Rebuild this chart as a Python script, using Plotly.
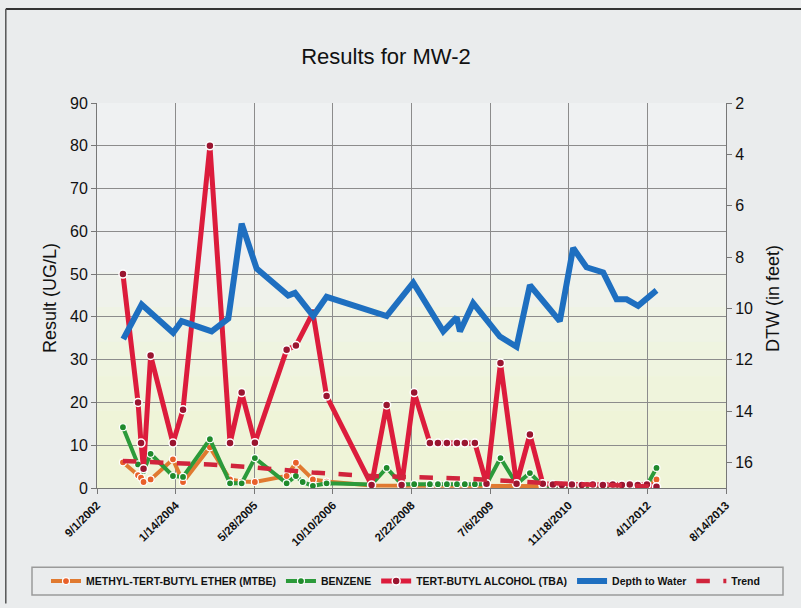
import plotly.graph_objects as go
import pandas as pd

# ---------------- data ----------------
x_tick_labels = ["9/1/2002", "1/14/2004", "5/28/2005", "10/10/2006", "2/22/2008",
                 "7/6/2009", "11/18/2010", "4/1/2012", "8/14/2013"]
y_left_ticks = [0, 10, 20, 30, 40, 50, 60, 70, 80, 90]
y_right_ticks = [2, 4, 6, 8, 10, 12, 14, 16]

tba_dates = ["2003-02-13", "2003-05-20", "2003-06-08", "2003-06-24", "2003-08-08",
             "2003-12-28", "2004-03-01", "2004-08-19", "2004-12-25", "2005-03-09",
             "2005-06-01", "2005-12-20", "2006-02-17", "2006-06-05", "2006-08-31",
             "2007-06-13", "2007-09-17", "2007-12-21", "2008-03-10", "2008-06-18",
             "2008-08-08", "2008-10-04", "2008-12-07", "2009-01-26", "2009-03-31",
             "2009-06-13", "2009-09-10", "2009-12-21", "2010-03-16", "2010-06-06",
             "2010-08-09", "2010-10-05", "2010-12-08", "2011-02-09", "2011-04-20",
             "2011-06-23", "2011-08-25", "2011-10-22", "2011-12-11", "2012-01-31",
             "2012-03-29", "2012-05-29"]
tba_values = [50, 20, 10.5, 4.5, 31,
              10.5, 18.3, 80, 10.5, 22.3,
              10.6, 32.3, 33.3, 41, 21.5,
              0.7, 19.4, 0.7, 22.3, 10.5,
              10.5, 10.5, 10.5, 10.5, 10.5,
              1, 29.2, 1, 12.5, 1,
              0.8, 0.7, 0.8, 0.7, 0.8,
              0.7, 0.8, 0.7, 0.8, 0.7,
              0.8, 0.3]

benz_dates = ["2003-02-13", "2003-05-20", "2003-06-24", "2003-08-08",
              "2003-12-28", "2004-03-01", "2004-08-19", "2004-12-25", "2005-03-09",
              "2005-06-01", "2005-12-20", "2006-02-17", "2006-04-01", "2006-06-05",
              "2006-08-31", "2007-06-13", "2007-09-17", "2007-12-21", "2008-03-10",
              "2008-06-18", "2008-08-08", "2008-10-04", "2008-12-07", "2009-01-26",
              "2009-03-31", "2009-06-13", "2009-09-10", "2009-12-21", "2010-03-16",
              "2010-06-06", "2010-12-08", "2011-06-23", "2011-12-11", "2012-03-29",
              "2012-05-29"]
benz_values = [14.2, 5.5, 4, 8,
               2.8, 2.6, 11.4, 1.1, 1.1,
               7, 1.1, 2.8, 1.4, 0.5,
               1.1, 0.8, 4.7, 0.9, 0.9,
               0.9, 0.9, 0.9, 0.9, 0.9,
               0.9, 0.9, 7, 0.9, 3.5,
               0.5, 0.4, 0.4, 0.4, 0.6,
               4.7]

mtbe_dates = ["2003-02-13", "2003-05-20", "2003-06-08", "2003-06-24", "2003-08-08",
              "2003-12-28", "2004-03-01", "2004-08-19", "2004-12-25", "2005-03-09",
              "2005-06-01", "2005-12-20", "2006-02-17", "2006-06-05", "2006-08-31",
              "2007-06-13", "2008-06-18", "2009-06-13", "2010-06-06", "2011-06-23",
              "2012-03-29", "2012-05-29"]
mtbe_values = [6, 3, 2.4, 1.4, 2,
               6.7, 1.4, 9.5, 2, 1.5,
               1.4, 2.8, 5.9, 2, 1.5,
               0.6, 0.5, 0.5, 0.4, 0.4,
               0.4, 2]

dtw_dates = ["2003-02-15", "2003-06-12", "2003-12-29", "2004-02-21", "2004-08-30",
             "2004-12-14", "2005-03-09", "2005-06-12", "2005-12-30", "2006-02-11",
             "2006-06-07", "2006-08-31", "2007-09-17", "2008-03-04", "2008-09-11",
             "2008-12-05", "2008-12-26", "2009-03-20", "2009-09-06", "2009-12-21",
             "2010-03-16", "2010-09-22", "2010-12-16", "2011-03-11", "2011-06-25",
             "2011-09-18", "2011-11-21", "2012-02-02", "2012-05-29"]
dtw_values = [11.2, 9.85, 10.95, 10.5, 10.9,
              10.4, 6.7, 8.45, 9.5, 9.4,
              10.3, 9.55, 10.3, 9.0, 10.9,
              10.35, 10.9, 9.8, 11.1, 11.5,
              9.1, 10.5, 7.65, 8.4, 8.6,
              9.65, 9.65, 9.9, 9.3]

trend_dates = ["2003-02-13", "2004-08-19", "2005-06-01", "2006-06-05", "2007-06-13",
               "2009-01-26", "2010-06-06", "2012-05-29"]
trend_values = [6.3, 5.5, 4.8, 3.6, 2.8, 2.2, 1.2, 0.3]

# ---------------- styling ----------------
FONT = "Liberation Sans, Arial, sans-serif"
RED = "#dc1c3c"
GREEN = "#2b9a3a"
ORANGE = "#e07a30"
BLUE = "#1e6fc0"

tick_dates = pd.to_datetime(x_tick_labels, format="%m/%d/%Y")

fig = go.Figure()

fig.add_trace(go.Scatter(
    x=pd.to_datetime(mtbe_dates), y=mtbe_values, name="METHYL-TERT-BUTYL ETHER (MTBE)",
    mode="lines+markers", line=dict(color=ORANGE, width=4),
    marker=dict(color="#e8602a", size=7, line=dict(color="white", width=1.2)),
))
fig.add_trace(go.Scatter(
    x=pd.to_datetime(benz_dates), y=benz_values, name="BENZENE",
    mode="lines+markers", line=dict(color=GREEN, width=4),
    marker=dict(color="#1f8a2c", size=7, line=dict(color="white", width=1.2)),
))
fig.add_trace(go.Scatter(
    x=pd.to_datetime(tba_dates), y=tba_values, name="TERT-BUTYL ALCOHOL (TBA)",
    mode="lines+markers", line=dict(color=RED, width=5),
    marker=dict(color="#9a1530", size=8, line=dict(color="white", width=1.5)),
))
fig.add_trace(go.Scatter(
    x=pd.to_datetime(dtw_dates), y=dtw_values, name="Depth to Water",
    mode="lines", line=dict(color=BLUE, width=6), yaxis="y2",
))
fig.add_trace(go.Scatter(
    x=pd.to_datetime(trend_dates), y=trend_values, name="Trend",
    mode="lines", line=dict(color="#d0243c", width=4.5, dash="dash"),
))

# lighter plot area with a gradual scan tint in its lower part
plot_bg = [dict(type="rect", xref="paper", yref="paper", x0=0, x1=1, y0=0, y1=1,
                fillcolor="#eff1f2", line=dict(width=0), layer="below")]
tint = [dict(type="rect", xref="paper", yref="paper", x0=0, x1=1, y0=0, y1=top,
             fillcolor="#f5f6c6", opacity=0.16, line=dict(width=0), layer="below")
        for top in (0.56, 0.47, 0.38, 0.29, 0.2)]

fig.update_layout(
    width=801, height=608,
    margin=dict(l=97, r=75, t=103, b=116),
    paper_bgcolor="#eaeced",
    plot_bgcolor="rgba(0,0,0,0)",
    font=dict(family=FONT, color="#1a1a1a"),
    title=dict(text="Results for MW-2", x=386 / 801, xref="container", xanchor="center",
               y=1 - 56 / 608, yref="container", yanchor="middle",
               font=dict(family=FONT, size=22, color="#111")),
    showlegend=True,
    legend=dict(orientation="h", xref="paper", yref="paper",
                x=(46 - 97) / 629, xanchor="left", y=(492 - 586) / 389, yanchor="middle",
                font=dict(family=FONT, size=10.5, weight="bold", color="#111"),
                bgcolor="rgba(0,0,0,0)", itemwidth=30, tracegroupgap=0),
    xaxis=dict(
        type="date", range=[tick_dates[0], tick_dates[-1]],
        tickvals=tick_dates, ticktext=x_tick_labels, tickangle=-45,
        tickfont=dict(family=FONT, size=11.5, weight="bold", color="#111"),
        showgrid=True, gridcolor="#8c8c8c", gridwidth=1,
        showline=True, linecolor="#777", linewidth=1,
        ticks="outside", ticklen=5, tickcolor="#777",
        zeroline=False,
    ),
    yaxis=dict(
        range=[0, 90], tickvals=y_left_ticks,
        tickfont=dict(family=FONT, size=16, color="#111"),
        showgrid=True, gridcolor="#8c8c8c", gridwidth=1,
        showline=True, linecolor="#777", linewidth=1,
        ticks="outside", ticklen=5, tickcolor="#777",
        zeroline=False,
    ),
    yaxis2=dict(
        overlaying="y", side="right", range=[17, 2], tickvals=y_right_ticks,
        tickfont=dict(family=FONT, size=16, color="#111"),
        showgrid=False, showline=True, linecolor="#777", linewidth=1,
        ticks="outside", ticklen=5, tickcolor="#777",
        zeroline=False,
    ),
    annotations=[
        dict(text="Result (UG/L)", textangle=-90, x=(50 - 97) / 629, y=(492 - 300) / 389,
             xref="paper", yref="paper", xanchor="center", yanchor="middle",
             showarrow=False, font=dict(family=FONT, size=18, color="#111")),
        dict(text="DTW (in feet)", textangle=-90, x=(773 - 97) / 629, y=(492 - 301) / 389,
             xref="paper", yref="paper", xanchor="center", yanchor="middle",
             showarrow=False, font=dict(family=FONT, size=18, color="#111")),
    ],
    shapes=plot_bg + tint + [
        # frame of the scanned chart
        dict(type="line", xref="paper", yref="paper", x0=-0.145, x1=1.2, y0=1.244, y1=1.244,
             line=dict(color="#333", width=2)),
        dict(type="line", xref="paper", yref="paper", x0=-0.145, x1=-0.145, y0=1.244, y1=-0.3,
             line=dict(color="#555", width=1.5)),
        # legend box
        dict(type="rect", xref="paper", yref="paper",
             x0=(32 - 97) / 629, x1=(783 - 97) / 629, y0=(492 - 600) / 389, y1=(492 - 572) / 389,
             line=dict(color="#9a9a9a", width=1.5), fillcolor="rgba(0,0,0,0)"),
    ],
)

# remove the browser's default 8px page margin so the figure sits at the window origin
fig.write_html("out.html", config={"displayModeBar": False},
               post_script="document.body.style.margin='0px';")
